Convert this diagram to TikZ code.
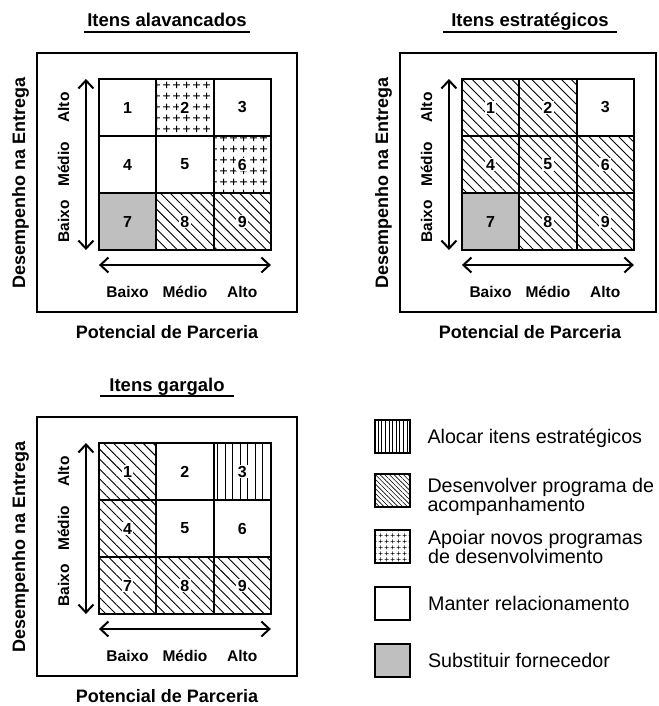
\documentclass[tikz,border=0pt]{standalone}
\usepackage{fontspec}
\setmainfont{Liberation Sans}
\usetikzlibrary{arrows.meta,patterns.meta,positioning}

% plus signs for "Apoiar novos programas"
\pgfdeclarepattern{
  name=plusgrid, type=uncolored,
  bottom left={\pgfpoint{0pt}{0pt}}, top right={\pgfpoint{9.5pt}{10.6pt}},
  tile size={\pgfpoint{9.5pt}{10.6pt}},
  code={
    \pgfsetlinewidth{1pt}
    \pgfpathmoveto{\pgfpoint{1.3pt}{5.3pt}}\pgfpathlineto{\pgfpoint{8.2pt}{5.3pt}}
    \pgfpathmoveto{\pgfpoint{4.75pt}{1.9pt}}\pgfpathlineto{\pgfpoint{4.75pt}{8.7pt}}
    \pgfusepath{stroke}
  }
}
\pgfdeclarepattern{
  name=plusgridsmall, type=uncolored,
  bottom left={\pgfpoint{0pt}{0pt}}, top right={\pgfpoint{6pt}{6pt}},
  tile size={\pgfpoint{6pt}{6pt}},
  code={
    \pgfsetlinewidth{0.7pt}
    \pgfpathmoveto{\pgfpoint{0.8pt}{3pt}}\pgfpathlineto{\pgfpoint{5.2pt}{3pt}}
    \pgfpathmoveto{\pgfpoint{3pt}{0.8pt}}\pgfpathlineto{\pgfpoint{3pt}{5.2pt}}
    \pgfusepath{stroke}
  }
}

\begin{document}
\begin{tikzpicture}[x=1pt,y=-1pt,
    cellbox/.style={draw,line width=2pt,minimum width=57.3pt,minimum height=57pt,
        inner sep=0pt,outer sep=0pt},
    cellnum/.style={inner sep=1.3pt,font=\bfseries\fontsize{16}{16}\selectfont},
    keep/.style={fill=white},
    follow/.style={pattern={Lines[angle=-45,distance=7pt,line width=0.9pt]}},
    support/.style={pattern=plusgrid},
    allocate/.style={pattern={Lines[angle=90,distance=7.5pt,line width=0.9pt]}},
    replace/.style={fill=black!25},
    followleg/.style={pattern={Lines[angle=-45,distance=3.3pt,line width=0.6pt]}},
    supportleg/.style={pattern=plusgridsmall},
    allocateleg/.style={pattern={Lines[angle=90,distance=3.6pt,line width=0.6pt]}},
    frame/.style={line width=2.5pt},
    axis/.style={line width=2pt,
        {Straight Barb[length=8pt,width=15pt]}-{Straight Barb[length=8pt,width=15pt]}},
    axislabel/.style={font=\bfseries\fontsize{15.5}{16}\selectfont,inner sep=0pt,anchor=base},
    axistitle/.style={font=\bfseries\fontsize{18}{20}\selectfont,inner sep=0pt,anchor=base},
    paneltitle/.style={font=\bfseries\fontsize{18.5}{20}\selectfont,inner xsep=3pt,
        inner ysep=0pt,anchor=base},
    legbox/.style={draw,line width=1.8pt,minimum width=35pt,minimum height=33.5pt,inner sep=0pt},
    legtext/.style={font=\fontsize{19.7}{19}\selectfont,inner sep=0pt,align=left},
]

\useasboundingbox (0,0) rectangle (658,706);
\fill[white] (0,0) rectangle (658,706);

% --- Cells: Itens alavancados ---
\foreach \s/\b [count=\i] in {keep/white,support/white,keep/white,keep/white,keep/white,
    support/white,replace/black!25,follow/white,follow/white}
  \node[cellbox,\s,label={[cellnum,fill=\b]center:\i}] (L-\i)
    at ({127.6+57.3*mod(\i-1,3)},{107.5+57*div(\i-1,3)}) {};

% --- Cells: Itens estrategicos ---
\foreach \s/\b [count=\i] in {follow/white,follow/white,keep/white,follow/white,follow/white,
    follow/white,replace/black!25,follow/white,follow/white}
  \node[cellbox,\s,label={[cellnum,fill=\b]center:\i}] (E-\i)
    at ({490.6+57.3*mod(\i-1,3)},{107.5+57*div(\i-1,3)}) {};

% --- Cells: Itens gargalo ---
\foreach \s/\b [count=\i] in {follow/white,keep/white,allocate/white,follow/white,keep/white,
    keep/white,follow/white,follow/white,follow/white}
  \node[cellbox,\s,label={[cellnum,fill=\b]center:\i}] (G-\i)
    at ({127.6+57.3*mod(\i-1,3)},{471.5+57*div(\i-1,3)}) {};

% --- Axes, scale labels and axis titles of each panel ---
\foreach \p/\dx/\dy in {L/0/0,E/363/0,G/0/364}{
  \begin{scope}[shift={(\dx,\dy)}]
    \draw[axis] ([xshift=-13pt]\p-7.south west) -- ([xshift=-13pt]\p-1.north west);
    \draw[axis] ([yshift=-15pt]\p-7.south west) -- ([yshift=-15pt]\p-9.south east);
    \node[axislabel] at (\p-7 |- 0,297.5) {Baixo};
    \node[axislabel] at (\p-8 |- 0,297.5) {Médio};
    \node[axislabel] at (\p-9 |- 0,297.5) {Alto};
    \node[axislabel,rotate=90] at (\p-1 -| 69,0) {Alto};
    \node[axislabel,rotate=90] at (\p-4 -| 69,0) {Médio};
    \node[axislabel,rotate=90] at (\p-7 -| 69,0) {Baixo};
    \node[axistitle,rotate=90] at (25,183) {Desempenho na Entrega};
    \node[axistitle] at (167,338.5) {Potencial de Parceria};
  \end{scope}
}

% --- Frames ---
\draw[frame] (37,53) rectangle (297,312);
\draw[frame] (400,53) rectangle (656,312);
\draw[frame] (37,417) rectangle (297,676);

% --- Titles ---
\node[paneltitle] (L-title) at (167,27) {Itens alavancados};
\node[paneltitle,inner xsep=8pt] (E-title) at (530,27) {Itens estratégicos};
\node[paneltitle,inner xsep=9pt] (G-title) at (167,391) {Itens gargalo};
\foreach \p in {L,E,G}
  \draw[line width=2.5pt] ([yshift=-5pt]\p-title.base west) -- ([yshift=-5pt]\p-title.base east);

% --- Legend ---
\node[legbox,allocateleg] (K-1) at (392.5,436.5) {};
\node[legbox,followleg]   (K-2) at (392.5,490.5) {};
\node[legbox,supportleg]  (K-3) at (392.5,546.5) {};
\node[legbox,keep]        (K-4) at (392.5,603.5) {};
\node[legbox,replace]     (K-5) at (392.5,660.5) {};

\node[legtext,anchor=base west] (T-1) at ([xshift=17pt,yshift=-6.5pt]K-1.east)
  {Alocar itens estratégicos};
\node[legtext,anchor=north west] (T-2) at ([xshift=17pt,yshift=-5pt]K-2.north east)
  {Desenvolver programa de\\acompanhamento};
\node[legtext,anchor=north west] (T-3) at ([xshift=17pt,yshift=-1pt]K-3.north east)
  {Apoiar novos programas\\de desenvolvimento};
\node[legtext,anchor=base west] (T-4) at ([xshift=17pt,yshift=-6.5pt]K-4.east)
  {Manter relacionamento};
\node[legtext,anchor=base west] (T-5) at ([xshift=17pt,yshift=-6.5pt]K-5.east)
  {Substituir fornecedor};

\end{tikzpicture}
\end{document}
